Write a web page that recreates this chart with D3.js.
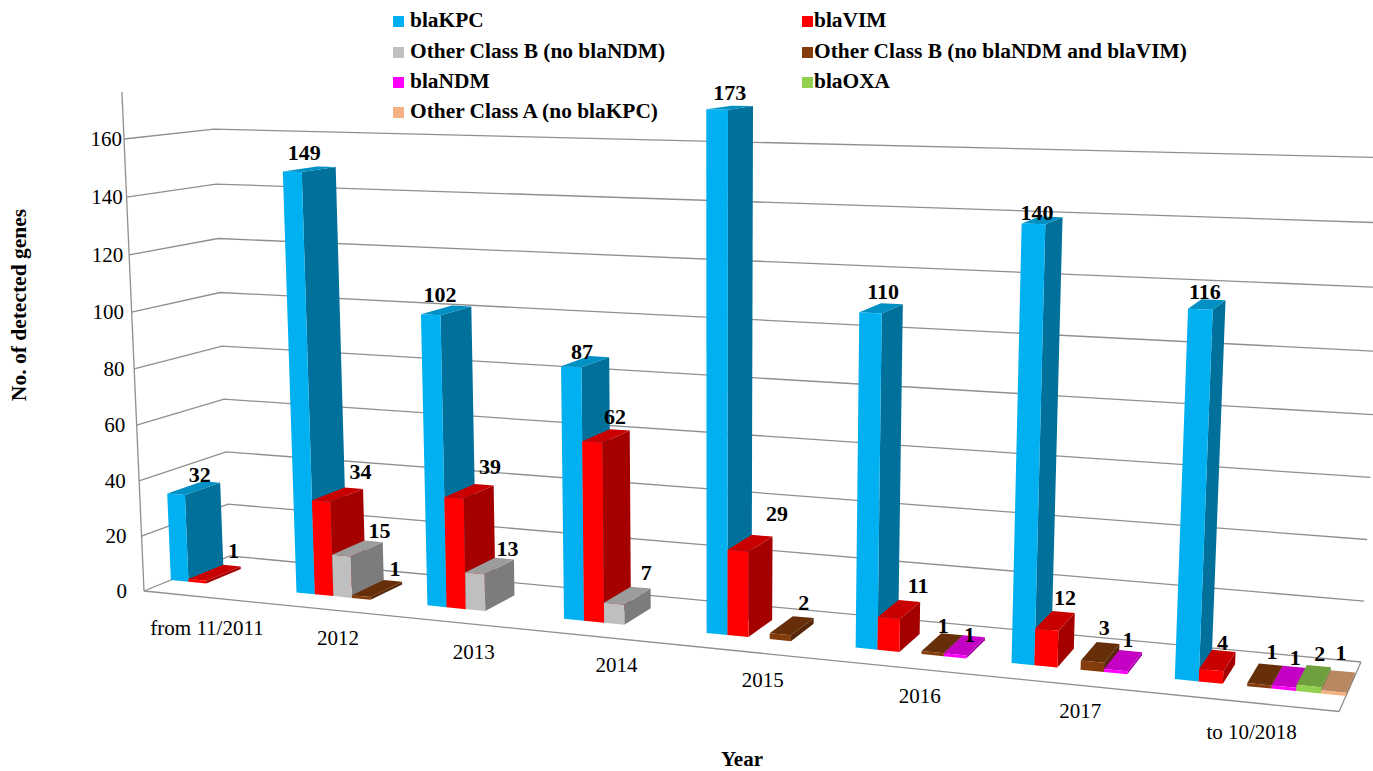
<!DOCTYPE html>
<html><head><meta charset="utf-8">
<script src="https://cdnjs.cloudflare.com/ajax/libs/d3/7.8.5/d3.min.js"></script>
<style>html,body{margin:0;padding:0;background:#fff;overflow:hidden}svg{display:block}text{font-family:"Liberation Serif","Times New Roman",serif;fill:#000}</style>
</head><body><svg id="c" width="1373" height="771"></svg>
<script>
const categories=["from 11/2011","2012","2013","2014","2015","2016","2017","to 10/2018"];
const seriesNames=["blaKPC","blaVIM","Other Class B (no blaNDM)","Other Class B (no blaNDM and blaVIM)","blaNDM","blaOXA","Other Class A (no blaKPC)"];
const blaKPC=[32,149,102,87,173,110,140,116];
const blaVIM=[1,34,39,62,29,11,12,4];
const otherBnoNDM=[0,15,13,7,0,0,0,0];
const otherBnoNDMVIM=[0,1,0,0,2,1,3,1];
const blaNDM=[0,0,0,0,0,1,1,1];
const blaOXA=[0,0,0,0,0,0,0,2];
const otherA=[0,0,0,0,0,0,0,1];
const seriesValues=[blaKPC,blaVIM,otherBnoNDM,otherBnoNDMVIM,blaNDM,blaOXA,otherA];
const yTicks=[0,20,40,60,80,100,120,140,160];
const frontColors=["#00B0F0","#FF0000","#BFBFBF","#843C0C","#FF00FF","#92D050","#F4B183"];
const sideColors=["#01719B","#A50000","#7C7C7C","#562708","#A500A5","#5F8734","#9E7355"];
const topColors=["#0190C4","#C80000","#9C9C9C","#662F0A","#C400C4","#709F3E","#BA8763"];

const floorQuad=[[144,591],[1339,711.5],[1361,662],[230,556]];
const topCorner=[124,139];
const topW=0.9662;
const [[x0,y0],[x1,y1],[x2,y2],[x3,y3]]=floorQuad;
const dx1=x1-x2,dx2=x3-x2,sx=x0-x1+x2-x3,dy1=y1-y2,dy2=y3-y2,sy=y0-y1+y2-y3;
const den=dx1*dy2-dx2*dy1;
const hg=(sx*dy2-dx2*sy)/den,hh=(dx1*sy-sx*dy1)/den;
const ha=x1-x0+hg*x1,hb=x3-x0+hh*x3,hd=y1-y0+hg*y1,he=y3-y0+hh*y3;
const vT=d3.scaleLinear().domain([0,160]).range([0,1]);
const Vx=topCorner[0]*topW-x0,Vy=topCorner[1]*topW-y0,Vw=topW-1;
function P(u,d,v){
  const t=vT(v),w=hg*u+hh*d+1+Vw*t;
  return [(ha*u+hb*d+x0+Vx*t)/w,(hd*u+he*d+y0+Vy*t)/w];
}

const xCat=d3.scaleBand().domain(categories).range([0,1]);
const xSer=d3.scaleBand().domain(seriesNames).range([0,xCat.bandwidth()]);
const depthFront=0.30,depthBack=0.71;

const svg=d3.select("#c");
const line=d3.line();
const grid=svg.append("g").attr("fill","none").attr("stroke","#8f8f8f").attr("stroke-width",1.3);
grid.selectAll("path.g").data(yTicks).join("path").attr("class","g")
  .attr("d",v=>line([P(0,0,v),P(0,1,v),P(1,1,v)]));
grid.append("path").attr("d",line([P(0,0,0),P(1,0,0),P(1,1,0)]));
grid.append("path").attr("d",line([P(0,0,0),P(0,0,176)]));

svg.append("g").selectAll("text").data(yTicks).join("text")
  .attr("x",v=>127-v/32).attr("y",v=>P(0,0,v)[1]+7)
  .attr("text-anchor","end").attr("font-size",21).text(d=>d);

const bars=svg.append("g");
const labelData=[];
categories.forEach((c,ci)=>{
  seriesNames.forEach((s,si)=>{
    const val=seriesValues[si][ci];
    if(!val) return;
    const u0=xCat(c)+xSer(s),u1=u0+xSer.bandwidth();
    const a=P(u0,depthFront,0),b=P(u1,depthFront,0),e=P(u1,depthBack,0);
    const at=P(u0,depthFront,val),bt=P(u1,depthFront,val),et=P(u1,depthBack,val),dt=P(u0,depthBack,val);
    const g=bars.append("g");
    g.append("path").attr("d",line([b,e,et,bt])+"Z").attr("fill",sideColors[si]);
    g.append("path").attr("d",line([at,bt,et,dt])+"Z").attr("fill",topColors[si]);
    g.append("path").attr("d",line([a,b,bt,at])+"Z").attr("fill",frontColors[si]);
    labelData.push({val,si,ci,x:(at[0]+et[0])/2,y:Math.min(dt[1],et[1])});
  });
});
const labelDx=[-3,19,19,15,8,8,8];
const labelDy=-7;
// hand placement of each data label, as the source chart has them, keyed "category,series"
const labelNudge={"0,0":[9,8],"1,0":[-2,1],"1,1":[4,-1],"1,2":[3,4],"1,3":[3,3],"2,0":[-3,3],"2,1":[2,-3],"2,2":[-1,5],
 "3,0":[0,10],"3,1":[-10,2],"4,0":[3,1],"4,1":[8,-7],"4,3":[-3,1],"5,0":[5,3],"5,3":[-14,7],"5,4":[-3,14],
 "6,0":[-2,10],"6,1":[-9,1],"6,3":[-11,0],"6,4":[-3,4],"7,0":[1,7],"7,1":[-14,7],"7,3":[-8,3],"7,4":[-2,6],"7,5":[-2,3],"7,6":[-5,-3]};
const nudge=d=>labelNudge[d.ci+","+d.si]||[0,0];
svg.append("g").selectAll("text").data(labelData).join("text")
  .attr("x",d=>d.x+labelDx[d.si]+nudge(d)[0]).attr("y",d=>d.y+labelDy+nudge(d)[1])
  .attr("text-anchor","middle").attr("font-size",22).attr("font-weight","bold").text(d=>d.val);

const catLabelDx=[0,1,1,2,0,2,0,1];
const catLabelDy=[38,35,35,34,34,34,33,36];
svg.append("g").selectAll("text").data(categories).join("text")
  .attr("x",(c,i)=>P(xCat(c)+xCat.bandwidth()/2,0,0)[0]+catLabelDx[i]).attr("y",(c,i)=>P(xCat(c)+xCat.bandwidth()/2,0,0)[1]+catLabelDy[i])
  .attr("text-anchor","middle").attr("font-size",21).text(d=>d);

const legendRows=[21,52,82,112];
const legendOrder=[[0,0,0],[1,1,0],[2,0,1],[3,1,1],[4,0,2],[5,1,2],[6,0,3]];
const legendX=[393,802];
const lg=svg.append("g");
legendOrder.forEach(([si,col,row])=>{
  lg.append("rect").attr("x",legendX[col]).attr("y",legendRows[row]-5).attr("width",11).attr("height",11).attr("fill",frontColors[si]);
  lg.append("text").attr("x",legendX[col]+(col?12:17)).attr("y",legendRows[row]+6).attr("font-size",21.4).attr("font-weight","bold").text(seriesNames[si]);
});
svg.append("text").attr("transform","translate(26,305) rotate(-90)").attr("text-anchor","middle").attr("font-size",21.5).attr("font-weight","bold").text("No. of detected genes");
svg.append("text").attr("x",742).attr("y",766).attr("text-anchor","middle").attr("font-size",21).attr("font-weight","bold").text("Year");
</script></body></html>
